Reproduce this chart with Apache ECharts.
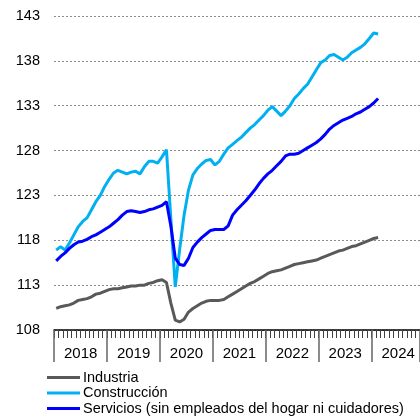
<!DOCTYPE html>
<html>
<head>
<meta charset="utf-8">
<script src="https://cdn.jsdelivr.net/npm/echarts@6/dist/echarts.min.js"></script>
<style>
	html,body{margin:0;padding:0;background:#fff;}
	#chart{width:420px;height:420px;}
</style>
</head>
<body>
<div id="chart"></div>
<script>
(function () {
	"use strict";
	// meses ene-2018 .. nov-2024 (el eje llega hasta el borde)
	var months = [];
	for (var y = 2018; y <= 2024; y++) {
		for (var m = 1; m <= 12; m++) {
			if (y === 2024 && m > 11) break;
			months.push(y + '-' + (m < 10 ? '0' + m : m));
		}
	}
	var yTicks = [108, 113, 118, 123, 128, 133, 138, 143];

	var industria = [
		110.4, 110.6, 110.7, 110.8, 111.0, 111.3, 111.4, 111.5, 111.7, 112.0, 112.1, 112.3,
		112.5, 112.6, 112.6, 112.7, 112.8, 112.9, 112.9, 113.0, 113.0, 113.2, 113.3, 113.5,
		113.6, 113.3, 111.0, 109.1, 108.9, 109.2, 110.0, 110.4, 110.7, 111.0, 111.2, 111.3,
		111.3, 111.3, 111.4, 111.7, 112.0, 112.3, 112.6, 112.9, 113.2, 113.4, 113.7, 114.0,
		114.3, 114.5, 114.6, 114.7, 114.9, 115.1, 115.3, 115.4, 115.5, 115.6, 115.7, 115.8,
		116.0, 116.2, 116.4, 116.6, 116.8, 116.9, 117.1, 117.3, 117.4, 117.6, 117.8, 118.0,
		118.2, 118.3
	];
	var construccion = [
		116.9, 117.3, 116.9, 117.7, 118.6, 119.5, 120.1, 120.5, 121.4, 122.3, 123.0, 124.0,
		124.8, 125.5, 125.8, 125.6, 125.4, 125.6, 125.7, 125.4, 126.2, 126.8, 126.8, 126.6,
		127.3, 128.1, 120.4, 112.8, 117.0, 120.8, 123.6, 125.3, 126.0, 126.5, 126.9, 127.0,
		126.4, 126.8, 127.6, 128.3, 128.7, 129.1, 129.5, 130.0, 130.5, 130.9, 131.4, 131.9,
		132.5, 132.9, 132.4, 131.9, 132.4, 133.0, 133.8, 134.3, 134.9, 135.4, 136.2, 137.0,
		137.8, 138.1, 138.6, 138.7, 138.4, 138.1, 138.4, 138.9, 139.2, 139.5, 139.9, 140.5,
		141.1, 141.0
	];
	var servicios = [
		115.7, 116.2, 116.6, 117.1, 117.5, 117.8, 117.9, 118.1, 118.4, 118.6, 118.9, 119.2,
		119.5, 119.9, 120.3, 120.8, 121.2, 121.3, 121.2, 121.1, 121.2, 121.4, 121.5, 121.7,
		121.9, 122.3, 119.6, 116.0, 115.3, 115.2, 116.0, 117.2, 117.8, 118.3, 118.7, 119.1,
		119.2, 119.2, 119.2, 119.6, 120.8, 121.4, 121.9, 122.4, 123.0, 123.6, 124.3, 124.9,
		125.4, 125.8, 126.3, 126.8, 127.4, 127.6, 127.6, 127.7, 128.0, 128.3, 128.6, 128.9,
		129.3, 129.8, 130.4, 130.8, 131.1, 131.4, 131.6, 131.8, 132.1, 132.3, 132.6, 132.9,
		133.3, 133.8
	];

	var fontFam = '"Liberation Sans", Arial, sans-serif';
	var chart = echarts.init(document.getElementById('chart'));
	var mkLine = function (name, color, data) {
		return {
			name: name,
			type: 'line',
			xAxisIndex: 0,
			data: data,
			showSymbol: false,
			symbol: 'none',
			lineStyle: { color: color, width: 3 },
			itemStyle: { color: color },
			animation: false
		};
	};
	var option = {
		backgroundColor: '#fff',
		textStyle: { fontFamily: fontFam },
		grid: { left: 54, right: 0, top: 16, bottom: 90, containLabel: false },
		legend: {
			orient: 'vertical',
			left: 47,
			top: 370,
			height: 70,
			padding: 0,
			itemWidth: 33,
			itemHeight: 3,
			itemGap: 0.5,
			icon: 'rect',
			textStyle: { fontSize: 14.5, lineHeight: 13, color: '#000', fontFamily: fontFam, padding: [0, 0, 0, -2] },
			data: ['Industria', 'Construcción', 'Servicios (sin empleados del hogar ni cuidadores)']
		},
		xAxis: [
			{
				type: 'category',
				data: months,
				boundaryGap: true,
				position: 'bottom',
				axisLine: { show: true, lineStyle: { color: '#000', width: 1.5 } },
				axisTick: { show: true, interval: 0, length: 8, lineStyle: { color: '#404040', width: 1 } },
				axisLabel: { show: false },
				splitLine: { show: false }
			},
			{
				type: 'category',
				data: months,
				boundaryGap: true,
				position: 'bottom',
				axisLine: { show: false },
				axisTick: {
					show: true,
					length: 32,
					interval: function (idx) { return idx % 12 === 0; },
					lineStyle: { color: '#666', width: 1.5 }
				},
				axisLabel: {
					show: true,
					interval: function (idx) { return idx % 12 === 6; },
					formatter: function (v) { return v.slice(0, 4); },
					fontSize: 15,
					color: '#000',
					margin: 16,
					padding: [0, 4, 0, 0],
					fontFamily: fontFam
				},
				splitLine: { show: false }
			}
		],
		yAxis: {
			type: 'value',
			min: yTicks[0],
			max: yTicks[yTicks.length - 1],
			interval: 5,
			axisLine: { show: false },
			axisTick: { show: false },
			axisLabel: { fontSize: 14.5, color: '#000', margin: 14, fontFamily: fontFam },
			splitLine: { show: true, lineStyle: { color: '#8c8c8c', type: [2, 2], width: 1 } }
		},
		series: [
			mkLine('Industria', '#595959', industria),
			mkLine('Construcción', '#00B0F0', construccion),
			mkLine('Servicios (sin empleados del hogar ni cuidadores)', '#0000FF', servicios)
		]
	};
	chart.setOption(option);
})();
</script>
</body>
</html>
